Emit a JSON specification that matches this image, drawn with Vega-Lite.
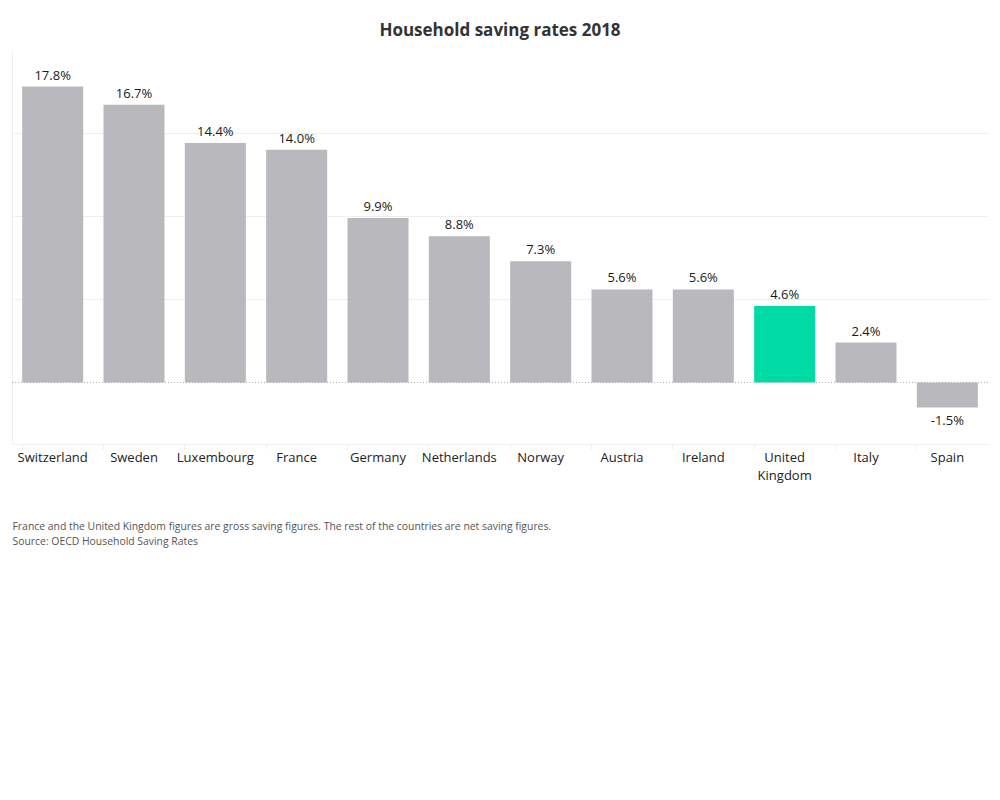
{
  "$schema": "https://vega.github.io/schema/vega-lite/v6.json",
  "width": 976,
  "height": 394,
  "autosize": {"type": "none"},
  "padding": {"left": 12, "top": 50, "right": 12, "bottom": 356},
  "background": "white",
  "title": {
    "text": "Household saving rates 2018",
    "font": "Open Sans",
    "fontSize": 17,
    "fontWeight": "bold",
    "color": "#333333",
    "anchor": "middle",
    "baseline": "alphabetic",
    "offset": -3
  },
  "config": {
    "view": {"stroke": null},
    "font": "Open Sans"
  },
  "data": {
    "values": [
      {"country": "Switzerland", "rate": 17.8, "uk": "no"},
      {"country": "Sweden", "rate": 16.7, "uk": "no"},
      {"country": "Luxembourg", "rate": 14.4, "uk": "no"},
      {"country": "France", "rate": 14.0, "uk": "no"},
      {"country": "Germany", "rate": 9.9, "uk": "no"},
      {"country": "Netherlands", "rate": 8.8, "uk": "no"},
      {"country": "Norway", "rate": 7.3, "uk": "no"},
      {"country": "Austria", "rate": 5.6, "uk": "no"},
      {"country": "Ireland", "rate": 5.6, "uk": "no"},
      {"country": "United Kingdom", "rate": 4.6, "uk": "yes"},
      {"country": "Italy", "rate": 2.4, "uk": "no"},
      {"country": "Spain", "rate": -1.5, "uk": "no"}
    ]
  },
  "encoding": {
    "x": {
      "field": "country",
      "type": "nominal",
      "sort": null,
      "scale": {"paddingInner": 0.25, "paddingOuter": 0.125},
      "axis": {
        "orient": "bottom",
        "labelAngle": 0,
        "labelFont": "Open Sans",
        "labelFontSize": 13,
        "labelColor": "#222222",
        "labelPadding": 2,
        "labelLineHeight": 18,
        "labelExpr": "datum.label == 'United Kingdom' ? ['United', 'Kingdom'] : datum.label",
        "bandPosition": 0,
        "ticks": true,
        "tickSize": 5,
        "tickColor": "#eeeeee",
        "domain": true,
        "domainColor": "#eeeeee",
        "grid": false,
        "title": ["France and the United Kingdom figures are gross saving figures. The rest of the countries are net saving figures.", "Source: OECD Household Saving Rates"],
        "titleFont": "Open Sans",
        "titleFontSize": 10.4,
        "titleFontWeight": "normal",
        "titleColor": "#555555",
        "titleAnchor": "start",
        "titleAlign": "left",
        "titleBaseline": "top",
        "titleLineHeight": 15,
        "titleX": 0,
        "titleY": 77
      }
    },
    "y": {
      "field": "rate",
      "type": "quantitative",
      "scale": {"domain": [-3.7, 20], "nice": false, "zero": false},
      "axis": {
        "title": null,
        "labels": false,
        "ticks": false,
        "domain": true,
        "domainColor": "#eeeeee",
        "grid": true,
        "gridColor": "#eeeeee",
        "values": [5, 10, 15]
      }
    }
  },
  "layer": [
    {
      "mark": {"type": "bar"},
      "encoding": {
        "color": {
          "field": "uk",
          "type": "nominal",
          "scale": {"domain": ["no", "yes"], "range": ["#b9b8bd", "#00dba5"]},
          "legend": null
        }
      }
    },
    {
      "mark": {"type": "rule", "color": "#b5b5b5", "strokeDash": [1, 2], "strokeWidth": 1},
      "encoding": {
        "x": null,
        "y": {"datum": 0}
      }
    },
    {
      "transform": [{"filter": "datum.rate >= 0"}],
      "mark": {"type": "text", "baseline": "alphabetic", "dy": -7, "fontSize": 13, "color": "#1a1a1a", "font": "Open Sans", "text": {"expr": "format(datum.rate, '.1f') + '%'"}}
    },
    {
      "transform": [{"filter": "datum.rate < 0"}],
      "mark": {"type": "text", "baseline": "top", "dy": 8, "fontSize": 13, "color": "#1a1a1a", "font": "Open Sans", "text": {"expr": "'-' + format(abs(datum.rate), '.1f') + '%'"}}
    }
  ]
}
